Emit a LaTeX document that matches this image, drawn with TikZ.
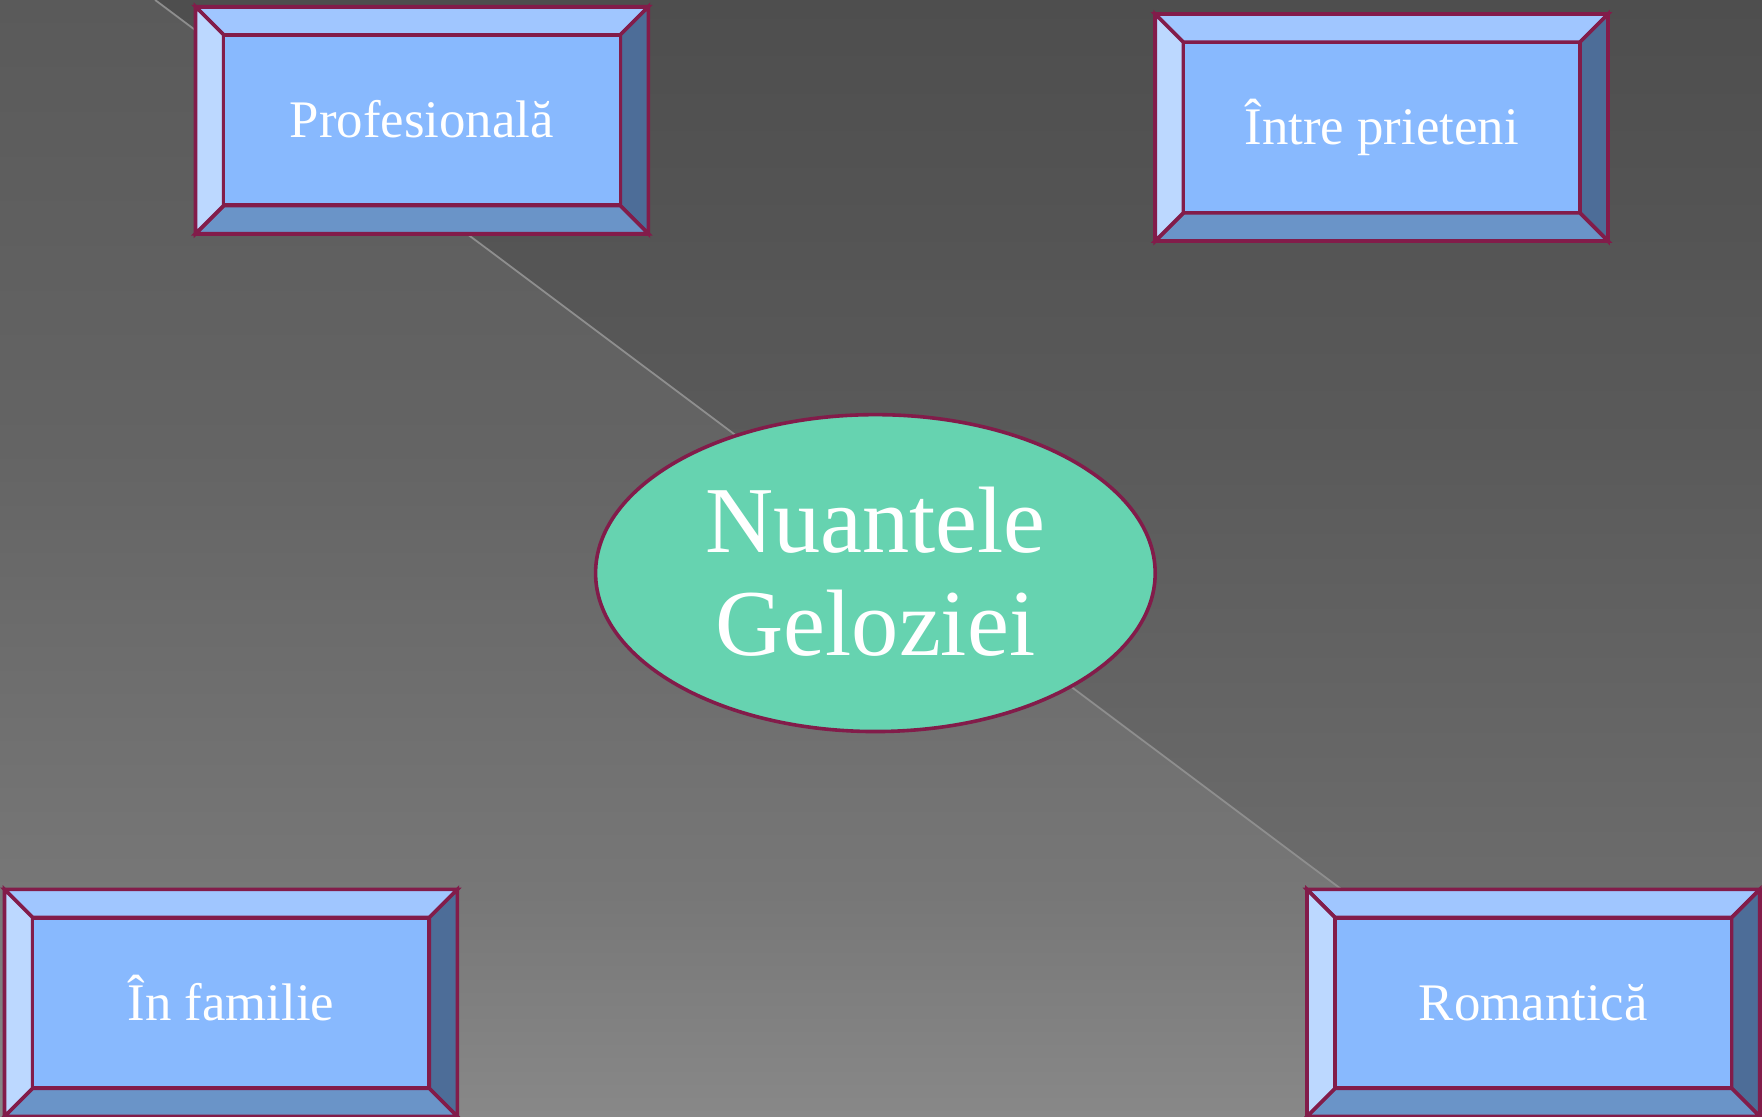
\documentclass[tikz,border=0pt]{standalone}
\usepackage{fontspec}
\setmainfont{Liberation Serif}
\usetikzlibrary{shapes.geometric}
\definecolor{llA}{HTML}{5A5A5A}
\definecolor{llB}{HTML}{646464}
\definecolor{llC}{HTML}{777777}
\definecolor{llD}{HTML}{888888}
\definecolor{urA}{HTML}{4E4E4E}
\definecolor{urB}{HTML}{5A5A5A}
\definecolor{urC}{HTML}{6C6C6C}
\definecolor{urD}{HTML}{7C7C7C}
\definecolor{bord}{HTML}{821C4A}
\definecolor{bvtop}{HTML}{A0C6FF}
\definecolor{bvleft}{HTML}{BCD8FF}
\definecolor{bvmid}{HTML}{88B9FE}
\definecolor{bvright}{HTML}{4D6D98}
\definecolor{bvbot}{HTML}{6A94C8}
\definecolor{ellfill}{HTML}{66D3B0}
\definecolor{diag}{HTML}{8E8E8E}
\pgfdeclareverticalshading{bgll}{100bp}{color(0bp)=(llD); color(25bp)=(llD); color(35bp)=(llC); color(55bp)=(llB); color(75bp)=(llA); color(100bp)=(llA)}
\pgfdeclareverticalshading{bgur}{100bp}{color(0bp)=(urD); color(25bp)=(urD); color(35bp)=(urC); color(55bp)=(urB); color(75bp)=(urA); color(100bp)=(urA)}
\newcommand\bevbox[4]{%
  \begin{scope}[shift={(#2,#3)}]
    \coordinate (#1-oa) at (-100.75pt,50.5pt);
    \coordinate (#1-ob) at (100.75pt,50.5pt);
    \coordinate (#1-oc) at (100.75pt,-50.5pt);
    \coordinate (#1-od) at (-100.75pt,-50.5pt);
    \coordinate (#1-ia) at (-88.25pt,38pt);
    \coordinate (#1-ib) at (88.25pt,38pt);
    \coordinate (#1-ic) at (88.25pt,-38pt);
    \coordinate (#1-id) at (-88.25pt,-38pt);
  \end{scope}
  \filldraw[bevel,fill=bvtop] (#1-oa)--(#1-ob)--(#1-ib)--(#1-ia)--cycle;
  \filldraw[bevel,fill=bvright] (#1-ob)--(#1-oc)--(#1-ic)--(#1-ib)--cycle;
  \filldraw[bevel,fill=bvbot] (#1-oc)--(#1-od)--(#1-id)--(#1-ic)--cycle;
  \filldraw[bevel,fill=bvleft] (#1-od)--(#1-oa)--(#1-ia)--(#1-id)--cycle;
  \node[boxin] (#1) at (#2,#3) {#4};
  \draw[bevel] (#1-oa)--(#1-ob)--(#1-oc)--(#1-od)--cycle;
}
\tikzset{
  bevel/.style={draw=bord,line width=1.6pt,line join=miter},
  boxin/.style={draw=bord,line width=1.6pt,fill=bvmid,rectangle,
    minimum width=176.5pt,minimum height=75.5pt,inner sep=0pt,
    text=white,font=\fontsize{23.5}{28}\selectfont,
    text height=15.5pt,text depth=0pt},
  centre/.style={ellipse,draw=bord,line width=1.6pt,fill=ellfill,
    minimum width=249pt,minimum height=141pt,inner sep=0pt,
    text=white,align=center,font=\fontsize{42}{46}\selectfont,
    text height=73.5pt,text depth=0pt},
  deco/.style={draw=diag,line width=0.8pt}
}
\begin{document}
\begin{tikzpicture}[x=0.5pt,y=-0.5pt]
  \useasboundingbox (0,0) rectangle (1568,994);
  \coordinate (ltop) at (138,0);
  \coordinate (lbot) at (1464,994);
  \fill[shading=bgll] (0,0) -- (ltop) -- (lbot) -- (0,994) -- cycle;
  \fill[shading=bgur] (ltop) -- (1568,0) -- (1568,994) -- (lbot) -- cycle;
  \draw[deco] (ltop) -- (lbot);
  \node[centre] (c) at (779,510) {Nuantele\\Geloziei};
  \bevbox{prof}{375.5}{107}{Profesională}
  \bevbox{prie}{1229.5}{113.5}{Între prieteni}
  \bevbox{fam}{205.5}{892.5}{În familie}
  \bevbox{rom}{1364.5}{892.5}{Romantică}
\end{tikzpicture}
\end{document}
